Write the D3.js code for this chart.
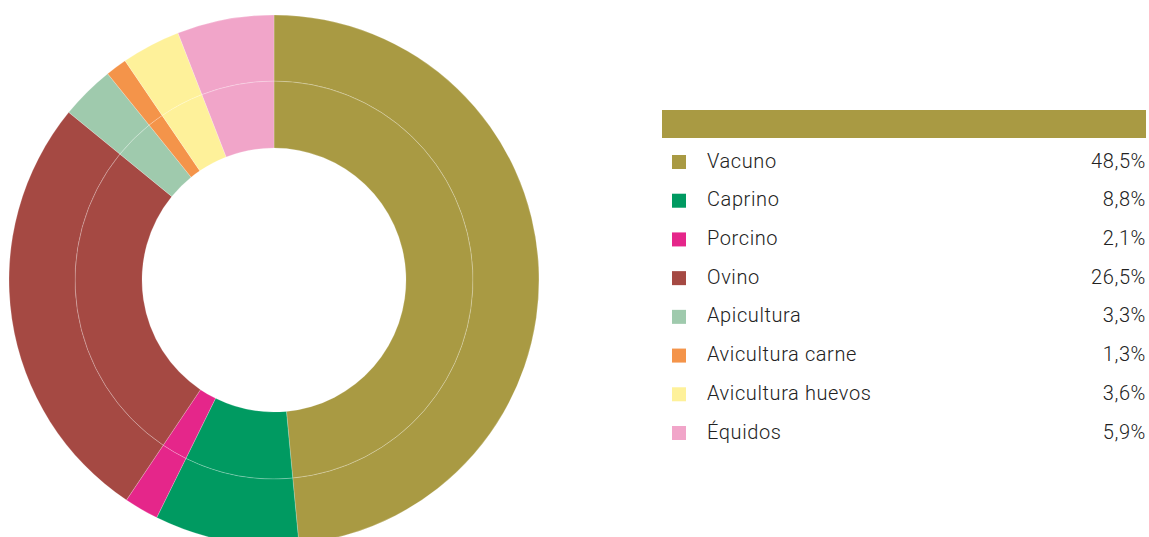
<!DOCTYPE html>
<html><head><meta charset="utf-8">
<script src="https://cdn.jsdelivr.net/npm/d3@7"></script>
<style>
html,body{margin:0;padding:0;background:#fff;}
svg{display:block;}
text{font-family:Roboto,"DejaVu Sans",sans-serif;font-weight:300;fill:#222;}
</style></head>
<body>
<svg id="chart" width="1149" height="537"></svg>
<script>
const categories = ["Vacuno","Caprino","Porcino","Ovino","Apicultura","Avicultura carne","Avicultura huevos","Équidos"];
const values = [48.5, 8.8, 2.1, 26.5, 3.3, 1.3, 3.6, 5.9];
const valueLabels = ["48,5%","8,8%","2,1%","26,5%","3,3%","1,3%","3,6%","5,9%"];
const colors = ["#a99a43","#009a61","#e5268a","#a54943","#9fcaad","#f4944a","#fef19a","#f1a5c9"];

const svg = d3.select("#chart");
const cx = 274, cy = 280, rIn = 132, rMid = 199, rOut = 265;

const data = categories.map((c,i)=>({name:c, value:values[i], color:colors[i]}));
const pie = d3.pie().value(d=>d.value).sort(null);
const arcs = pie(data);

const g = svg.append("g").attr("transform",`translate(${cx},${cy})`);
const rings = [[rIn,rMid],[rMid,rOut]];
rings.forEach(([a,b])=>{
  const arc = d3.arc().innerRadius(a).outerRadius(b);
  g.selectAll(null).data(arcs).enter().append("path")
    .attr("d",arc)
    .attr("fill",d=>d.data.color)
    .attr("stroke","rgba(255,255,255,0.3)")
    .attr("stroke-width",0.7);
});

// legend
const lx0 = 662, lx1 = 1146;
svg.append("rect").attr("x",lx0).attr("y",110).attr("width",lx1-lx0).attr("height",28).attr("fill","#a99a43");
const y = d3.scalePoint().domain(categories).range([161,432]);
const leg = svg.selectAll(".leg").data(data).enter().append("g").attr("class","leg")
  .attr("transform",d=>`translate(0,${y(d.name)})`);
leg.append("rect").attr("x",672).attr("y",-6).attr("width",14).attr("height",14).attr("fill",d=>d.color);
leg.append("text").attr("x",707).attr("y",6.5).attr("font-size",20).attr("letter-spacing",0.6).text(d=>d.name);
leg.append("text").attr("x",lx1).attr("y",6.5).attr("font-size",20).attr("letter-spacing",0.6).attr("text-anchor","end").text((d,i)=>valueLabels[i]);
</script>
</body></html>
